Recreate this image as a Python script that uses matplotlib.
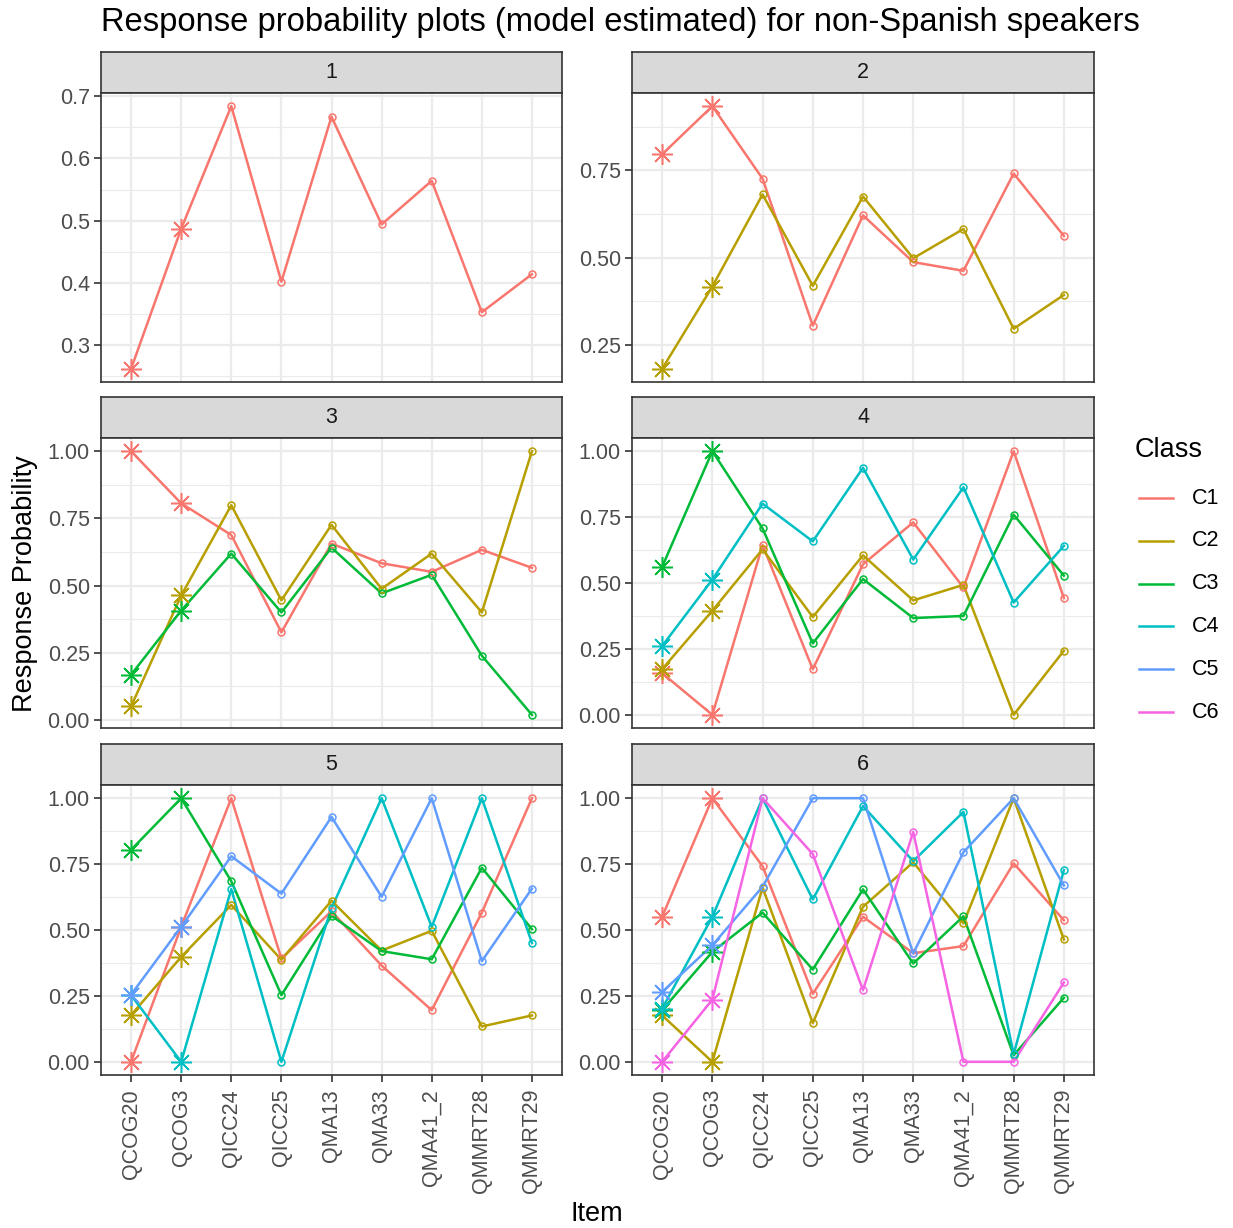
import numpy as np
import matplotlib
matplotlib.use("Agg")
import matplotlib.pyplot as plt
from matplotlib.lines import Line2D

plt.rcParams['font.family'] = ['Liberation Sans', 'DejaVu Sans']

items = ["QCOG20", "QCOG3", "QICC24", "QICC25", "QMA13", "QMA33",
         "QMA41_2", "QMMRT28", "QMMRT29"]
classes = ["C1", "C2", "C3", "C4", "C5", "C6"]
class_colors = ["#F8766D", "#B79F00", "#00BA38", "#00BFC4", "#619CFF", "#F564E3"]
n_anchor = 2  # the two QCOG items get asterisk markers

# estimated response probabilities, one dict per model (1..6 classes)
model1 = {
    "C1": [0.262, 0.487, 0.684, 0.402, 0.667, 0.494, 0.564, 0.353, 0.414],
}
model2 = {
    "C1": [0.796, 0.934, 0.726, 0.305, 0.621, 0.487, 0.462, 0.741, 0.562],
    "C2": [0.181, 0.417, 0.681, 0.419, 0.675, 0.498, 0.582, 0.296, 0.393],
}
model3 = {
    "C1": [1.000, 0.806, 0.688, 0.326, 0.656, 0.583, 0.551, 0.633, 0.566],
    "C2": [0.050, 0.463, 0.799, 0.445, 0.726, 0.488, 0.619, 0.400, 1.000],
    "C3": [0.168, 0.407, 0.619, 0.400, 0.641, 0.471, 0.540, 0.239, 0.019],
}
model4 = {
    "C1": [0.158, 0.000, 0.644, 0.173, 0.571, 0.730, 0.483, 1.000, 0.443],
    "C2": [0.173, 0.395, 0.628, 0.371, 0.605, 0.434, 0.493, 0.000, 0.243],
    "C3": [0.561, 1.000, 0.707, 0.271, 0.515, 0.367, 0.375, 0.759, 0.528],
    "C4": [0.261, 0.513, 0.801, 0.658, 0.937, 0.589, 0.863, 0.426, 0.641],
}
model5 = {
    "C1": [0.000, 0.512, 1.000, 0.392, 0.571, 0.365, 0.196, 0.566, 1.000],
    "C2": [0.177, 0.398, 0.595, 0.387, 0.611, 0.422, 0.497, 0.134, 0.176],
    "C3": [0.804, 1.000, 0.685, 0.253, 0.554, 0.420, 0.389, 0.736, 0.503],
    "C4": [0.253, 0.000, 0.655, 0.000, 0.583, 1.000, 0.512, 1.000, 0.451],
    "C5": [0.255, 0.512, 0.780, 0.638, 0.929, 0.626, 1.000, 0.382, 0.657],
}
model6 = {
    "C1": [0.550, 1.000, 0.742, 0.258, 0.550, 0.412, 0.439, 0.753, 0.537],
    "C2": [0.176, 0.000, 0.661, 0.147, 0.588, 0.757, 0.525, 1.000, 0.464],
    "C3": [0.196, 0.417, 0.566, 0.350, 0.654, 0.373, 0.552, 0.025, 0.243],
    "C4": [0.202, 0.550, 1.000, 0.616, 0.970, 0.761, 0.948, 0.029, 0.727],
    "C5": [0.265, 0.442, 0.664, 1.000, 1.000, 0.411, 0.795, 1.000, 0.669],
    "C6": [0.000, 0.236, 1.000, 0.788, 0.272, 0.872, 0.000, 0.000, 0.301],
}
models = [model1, model2, model3, model4, model5, model6]

y_breaks = [
    [0.3, 0.4, 0.5, 0.6, 0.7],
    [0.25, 0.50, 0.75],
] + [[0.0, 0.25, 0.50, 0.75, 1.00]] * 4
y_fmt = ["{:.1f}"] + ["{:.2f}"] * 5

# ---- layout (pixels) ----
W, H = 1233, 1228
fig = plt.figure(figsize=(W / 100, H / 100), dpi=100)
col_x = [(101, 562), (632, 1094)]
row_y = [(52, 93, 382), (397, 438, 728), (744, 785, 1075)]

GRID = "#EBEBEB"
DARK = "#333333"
TICK_FS = 15.5
TITLE_FS = 19.5


def rect(x0, y0, x1, y1):
    return [x0 / W, 1 - y1 / H, (x1 - x0) / W, (y1 - y0) / H]


x = np.arange(1, len(items) + 1)

for k, model in enumerate(models):
    r, c = divmod(k, 2)
    x0, x1 = col_x[c]
    s0, p0, p1 = row_y[r]

    # strip
    sax = fig.add_axes(rect(x0, s0, x1, p0))
    sax.set_facecolor("#D9D9D9")
    sax.set_xticks([])
    sax.set_yticks([])
    for sp in sax.spines.values():
        sp.set_color(DARK)
        sp.set_linewidth(1.2)
    sax.text(0.5, 0.5, str(k + 1), ha="center", va="center",
             fontsize=TICK_FS, color="#1A1A1A", transform=sax.transAxes)

    ax = fig.add_axes(rect(x0, p0, x1, p1))
    vals = np.concatenate([model[cl] for cl in model])
    lo, hi = vals.min(), vals.max()
    pad = 0.05 * (hi - lo)
    ax.set_ylim(lo - pad, hi + pad)
    ax.set_xlim(0.4, len(items) + 0.6)

    br = y_breaks[k]
    step = br[1] - br[0]
    minors = np.arange(br[0] - step / 2, br[-1] + step, step)
    minors = [m for m in minors if lo - pad < m < hi + pad]
    ax.set_yticks(br)
    ax.set_yticklabels([y_fmt[k].format(b) for b in br])
    ax.set_yticks(minors, minor=True)
    ax.set_xticks(x)
    ax.grid(which="major", color=GRID, linewidth=1.6)
    ax.grid(which="minor", axis="y", color=GRID, linewidth=0.8)
    ax.set_axisbelow(True)
    ax.tick_params(which="minor", length=0)
    ax.tick_params(axis="y", which="major", length=5, width=1.2, color=DARK,
                   labelsize=TICK_FS, labelcolor="#4D4D4D", pad=3)
    if r == 2:
        ax.set_xticklabels(items, rotation=90)
        ax.tick_params(axis="x", which="major", length=5, width=1.2, color=DARK,
                       labelsize=TICK_FS, labelcolor="#4D4D4D", pad=5)
    else:
        ax.set_xticklabels([])
        ax.tick_params(axis="x", which="major", length=0)
    for sp in ax.spines.values():
        sp.set_color(DARK)
        sp.set_linewidth(1.2)

    for cl in model:
        col = class_colors[classes.index(cl)]
        ax.plot(x, model[cl], color=col, linewidth=1.8, zorder=2)
    for cl in model:
        col = class_colors[classes.index(cl)]
        yv = np.asarray(model[cl])
        ax.plot(x[:n_anchor], yv[:n_anchor], linestyle="none", marker=(8, 2, 0),
                markersize=15, markeredgewidth=1.1, color=col, zorder=3)
        ax.plot(x[n_anchor:], yv[n_anchor:], linestyle="none", marker="o",
                markersize=5, markerfacecolor="none", markeredgewidth=1.1,
                color=col, zorder=3)

# titles
fig.text(101 / W, 1 - 31 / H,
         "Response probability plots (model estimated) for non-Spanish speakers",
         ha="left", va="baseline", fontsize=23.6, color="black")
fig.text(25 / W, 1 - 584 / H, "Response Probability", rotation=90,
         ha="center", va="center", fontsize=TITLE_FS, color="black")
fig.text(597 / W, 1 - 1214 / H, "Item", ha="center", va="center",
         fontsize=TITLE_FS, color="black")

# legend
fig.text(1135 / W, 1 - 450 / H, "Class", ha="left", va="center",
         fontsize=TITLE_FS, color="black")
for i, (cl, col) in enumerate(zip(classes, class_colors)):
    yy = 1 - (498 + i * 42.8) / H
    fig.add_artist(Line2D([1139 / W, 1173 / W], [yy, yy], color=col,
                          linewidth=1.8, transform=fig.transFigure))
    fig.text(1192 / W, yy, cl, ha="left", va="center", fontsize=TICK_FS,
             color="black")

fig.savefig("out.png", dpi=100, facecolor="white")
